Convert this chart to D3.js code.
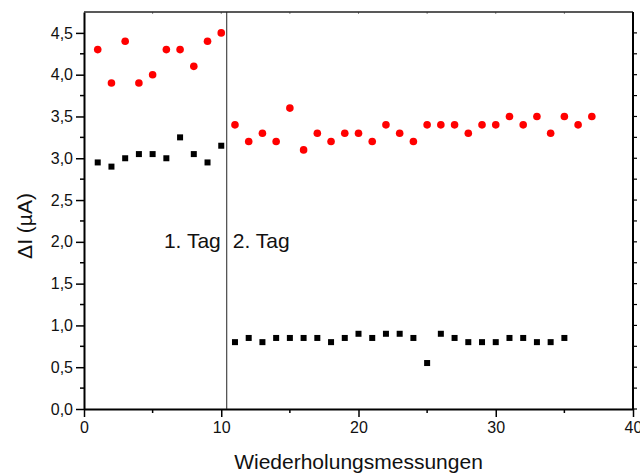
<!DOCTYPE html>
<html>
<head>
<meta charset="utf-8">
<script src="https://d3js.org/d3.v7.min.js"></script>
<style>
  body { margin: 0; background: #fff; }
  text { font-family: "Liberation Sans", Arial, sans-serif; fill: #111; }
</style>
</head>
<body>
<div id="chart"></div>
<script>
// measurement number (x) and current difference (y)
var redX = d3.range(1, 38);
var redY = [4.3, 3.9, 4.4, 3.9, 4.0, 4.3, 4.3, 4.1, 4.4, 4.5,
            3.4, 3.2, 3.3, 3.2, 3.6, 3.1, 3.3, 3.2, 3.3, 3.3,
            3.2, 3.4, 3.3, 3.2, 3.4, 3.4, 3.4, 3.3, 3.4, 3.4,
            3.5, 3.4, 3.5, 3.3, 3.5, 3.4, 3.5];
var blackX = d3.range(1, 36);
var blackY = [2.95, 2.9, 3.0, 3.05, 3.05, 3.0, 3.25, 3.05, 2.95, 3.15,
              0.8, 0.85, 0.8, 0.85, 0.85, 0.85, 0.85, 0.8, 0.85, 0.9,
              0.85, 0.9, 0.9, 0.85, 0.55, 0.9, 0.85, 0.8, 0.8, 0.8,
              0.85, 0.85, 0.8, 0.8, 0.85];
var xTicks = [0, 10, 20, 30, 40];
var yTicks = [0, 0.5, 1, 1.5, 2, 2.5, 3, 3.5, 4, 4.5];
var dayBreak = 10.4;
var dayLabels = ["1. Tag", "2. Tag"];

var width = 640, height = 474;
var margin = {top: 12, right: 7, bottom: 65, left: 84};

var svg = d3.select("#chart").append("svg")
    .attr("width", width)
    .attr("height", height);

var x = d3.scaleLinear().domain([0, 40]).range([margin.left, width - margin.right]);
var y = d3.scaleLinear().domain([0, 4.75]).range([height - margin.bottom, margin.top]);

var fmt = function(d) { return d3.format(".1f")(d).replace(".", ","); };

// minor ticks
var g = svg.append("g");
g.selectAll(".ymin").data(d3.range(0.25, 4.75, 0.5)).enter().append("line")
    .attr("x1", x(0) - 4).attr("x2", x(0))
    .attr("y1", function(d) { return y(d); }).attr("y2", function(d) { return y(d); })
    .attr("stroke", "#000").attr("stroke-width", 1.5);
g.selectAll(".xmin").data([5, 15, 25, 35]).enter().append("line")
    .attr("x1", function(d) { return x(d); }).attr("x2", function(d) { return x(d); })
    .attr("y1", y(0)).attr("y2", y(0) + 4)
    .attr("stroke", "#000").attr("stroke-width", 1.5);
// right side ticks
g.selectAll(".yr").data(d3.range(0, 4.75, 0.25)).enter().append("line")
    .attr("x1", x(40)).attr("x2", x(40) + 4)
    .attr("y1", function(d) { return y(d); }).attr("y2", function(d) { return y(d); })
    .attr("stroke", "#000").attr("stroke-width", 1.2);
// top ticks
g.selectAll(".xt").data(d3.range(5, 40, 5)).enter().append("line")
    .attr("x1", function(d) { return x(d); }).attr("x2", function(d) { return x(d); })
    .attr("y1", y(4.75)).attr("y2", y(4.75) + 2)
    .attr("stroke", "#888").attr("stroke-width", 1);

var xAxis = svg.append("g")
    .attr("transform", "translate(0," + y(0) + ")")
    .call(d3.axisBottom(x).tickValues(xTicks).tickSize(8).tickSizeOuter(0).tickPadding(5));
var yAxis = svg.append("g")
    .attr("transform", "translate(" + x(0) + ",0)")
    .call(d3.axisLeft(y).tickValues(yTicks).tickFormat(fmt).tickSize(8).tickSizeOuter(0).tickPadding(3));
[xAxis, yAxis].forEach(function(a) {
  a.select(".domain").attr("stroke", "#000").attr("stroke-width", 2);
  a.selectAll(".tick line").attr("stroke", "#000").attr("stroke-width", 1.5);
  a.selectAll("text").style("font-size", "16px").attr("fill", "#111");
});

// top and right frame
svg.append("line").attr("x1", x(0)).attr("x2", x(40)).attr("y1", y(4.75)).attr("y2", y(4.75))
    .attr("stroke", "#222").attr("stroke-width", 1.5);
svg.append("line").attr("x1", x(40)).attr("x2", x(40)).attr("y1", y(4.75)).attr("y2", y(0))
    .attr("stroke", "#000").attr("stroke-width", 2);

// day separator
svg.append("line").attr("x1", x(dayBreak)).attr("x2", x(dayBreak)).attr("y1", y(4.75)).attr("y2", y(0))
    .attr("stroke", "#222").attr("stroke-width", 1);
svg.append("text").attr("x", x(dayBreak) - 6).attr("y", 248).attr("text-anchor", "end")
    .style("font-size", "21px").text(dayLabels[0]);
svg.append("text").attr("x", x(dayBreak) + 6).attr("y", 248).attr("text-anchor", "start")
    .style("font-size", "21px").text(dayLabels[1]);

// points
svg.append("g").selectAll("circle").data(redX).enter().append("circle")
    .attr("cx", function(d) { return x(d); })
    .attr("cy", function(d, i) { return y(redY[i]); })
    .attr("r", 3.8).attr("fill", "#ff0000");
var s = 6;
svg.append("g").selectAll("rect").data(blackX).enter().append("rect")
    .attr("x", function(d) { return x(d) - s / 2; })
    .attr("y", function(d, i) { return y(blackY[i]) - s / 2; })
    .attr("width", s).attr("height", s).attr("fill", "#000");

// axis titles
svg.append("text").attr("x", (x(0) + x(40)) / 2).attr("y", 469).attr("text-anchor", "middle")
    .style("font-size", "21px").text("Wiederholungsmessungen");
svg.append("text").attr("transform", "translate(32,226) rotate(-90)")
    .attr("text-anchor", "middle").style("font-size", "21px").text("ΔI (µA)");
</script>
</body>
</html>
